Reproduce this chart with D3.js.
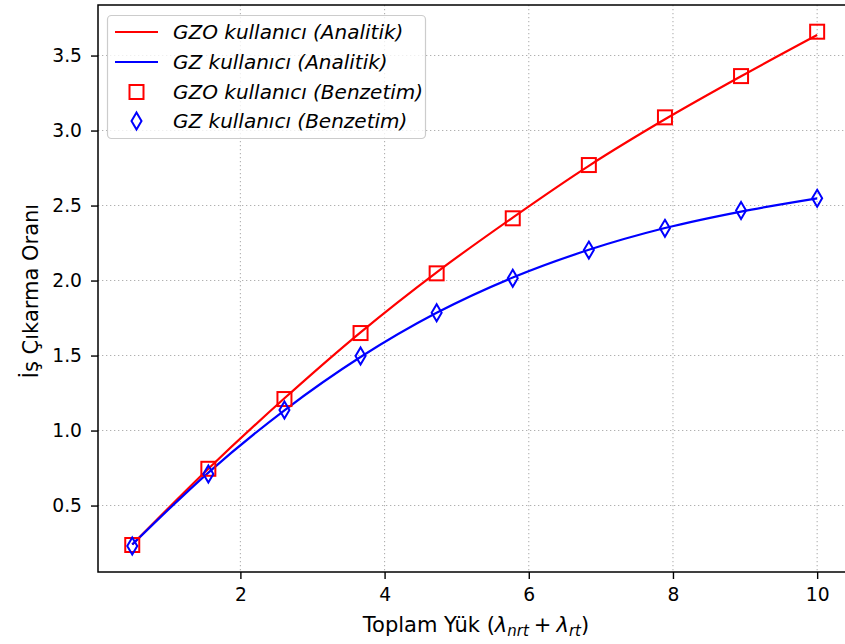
<!DOCTYPE html>
<html><head><meta charset="utf-8">
<script src="https://cdn.jsdelivr.net/npm/d3@7"></script>
<style>
body{margin:0;background:#fff;}
svg{font-family:"DejaVu Sans",sans-serif;}
</style></head>
<body><svg id="c" width="845" height="644"></svg>
<script>
const xValues = [0.5, 1.5556, 2.6111, 3.6667, 4.7222, 5.7778, 6.8333, 7.8889, 8.9444, 10];
const gzoAnalytic = [0.240, 0.745, 1.215, 1.655, 2.055, 2.420, 2.765, 3.075, 3.362, 3.637];
const gzAnalytic  = [0.240, 0.720, 1.135, 1.490, 1.785, 2.020, 2.205, 2.350, 2.460, 2.548];
const gzoSim = [0.237, 0.745, 1.210, 1.650, 2.048, 2.415, 2.770, 3.088, 3.363, 3.659];
const gzSim  = [0.230, 0.710, 1.137, 1.497, 1.785, 2.015, 2.203, 2.348, 2.467, 2.548];
const xTicks = [2, 4, 6, 8, 10];
const yTicks = [0.5, 1.0, 1.5, 2.0, 2.5, 3.0, 3.5];
const legendLabels = ["GZO kullanıcı (Analitik)", "GZ kullanıcı (Analitik)", "GZO kullanıcı (Benzetim)", "GZ kullanıcı (Benzetim)"];

const svg = d3.select("#c");
const L = 98, R = 851.4, T = 5, B = 572;
const x = d3.scaleLinear().domain([0.025, 10.475]).range([L, R]);
const y = d3.scaleLinear().domain([0.057, 3.837]).range([B, T]);

const clipId = "plotclip";
svg.append("defs").append("clipPath").attr("id", clipId)
  .append("rect").attr("x", L).attr("y", T).attr("width", R - L).attr("height", B - T);

// grid
const grid = svg.append("g");
grid.selectAll(".gx").data(xTicks).enter().append("line")
  .attr("x1", d => x(d)).attr("x2", d => x(d)).attr("y1", T).attr("y2", B)
  .attr("stroke", "#b0b0b0").attr("stroke-width", 1.1).attr("stroke-dasharray", "1.3,2.7");
grid.selectAll(".gy").data(yTicks).enter().append("line")
  .attr("x1", L).attr("x2", R).attr("y1", d => y(d)).attr("y2", d => y(d))
  .attr("stroke", "#b0b0b0").attr("stroke-width", 1.1).attr("stroke-dasharray", "1.3,2.7");

// axes
const xAxis = d3.axisBottom(x).tickValues(xTicks).tickFormat(d3.format("d")).tickSize(7).tickPadding(9);
const yAxis = d3.axisLeft(y).tickValues(yTicks).tickFormat(d3.format(".1f")).tickSize(7).tickPadding(9);
const gx = svg.append("g").attr("transform", `translate(0,${B})`).call(xAxis);
const gy = svg.append("g").attr("transform", `translate(${L},0)`).call(yAxis);
[gx, gy].forEach(g => {
  g.select(".domain").remove();
  g.selectAll(".tick line").attr("stroke", "#000").attr("stroke-width", 1.4);
  g.selectAll(".tick text").attr("fill", "#000").style("font-size", "18.7px").style("font-family", "DejaVu Sans");
});

// spines
svg.append("rect").attr("x", L).attr("y", T).attr("width", R - L).attr("height", B - T)
  .attr("fill", "none").attr("stroke", "#000").attr("stroke-width", 1.5);

const plot = svg.append("g").attr("clip-path", `url(#${clipId})`);
const line = d3.line().x(d => x(d[0])).y(d => y(d[1])).curve(d3.curveMonotoneX);
plot.append("path").datum(xValues.map((v, i) => [v, gzoAnalytic[i]]))
  .attr("d", line).attr("fill", "none").attr("stroke", "#ff0000").attr("stroke-width", 2.2);
plot.append("path").datum(xValues.map((v, i) => [v, gzAnalytic[i]]))
  .attr("d", line).attr("fill", "none").attr("stroke", "#0000ff").attr("stroke-width", 2.2);

const sq = 14;
plot.selectAll(".sq").data(xValues.map((v, i) => [v, gzoSim[i]])).enter().append("rect")
  .attr("x", d => x(d[0]) - sq / 2).attr("y", d => y(d[1]) - sq / 2)
  .attr("width", sq).attr("height", sq)
  .attr("fill", "none").attr("stroke", "#ff0000").attr("stroke-width", 2);
const diamond = "M0,-8.5L5,0L0,8.5L-5,0Z";
plot.selectAll(".dm").data(xValues.map((v, i) => [v, gzSim[i]])).enter().append("path")
  .attr("d", diamond).attr("transform", d => `translate(${x(d[0])},${y(d[1])})`)
  .attr("fill", "none").attr("stroke", "#0000ff").attr("stroke-width", 2);

// legend
const lg = svg.append("g");
lg.append("rect").attr("x", 107.5).attr("y", 15.5).attr("width", 318).attr("height", 123)
  .attr("rx", 4).attr("fill", "#fff").attr("fill-opacity", 0.8).attr("stroke", "#cccccc").attr("stroke-width", 1.2);
const rows = [32, 62, 92, 121];
lg.append("line").attr("x1", 115).attr("x2", 158).attr("y1", rows[0]).attr("y2", rows[0]).attr("stroke", "#ff0000").attr("stroke-width", 2.2);
lg.append("line").attr("x1", 115).attr("x2", 158).attr("y1", rows[1]).attr("y2", rows[1]).attr("stroke", "#0000ff").attr("stroke-width", 2.2);
lg.append("rect").attr("x", 136.5 - sq / 2).attr("y", rows[2] - sq / 2).attr("width", sq).attr("height", sq)
  .attr("fill", "none").attr("stroke", "#ff0000").attr("stroke-width", 2);
lg.append("path").attr("d", diamond).attr("transform", `translate(136.5,${rows[3]})`)
  .attr("fill", "none").attr("stroke", "#0000ff").attr("stroke-width", 2);
lg.selectAll(".lt").data(legendLabels).enter().append("text")
  .attr("x", 173).attr("y", (d, i) => rows[i]).attr("dy", "0.36em")
  .style("font-size", "20px").style("font-style", "italic").attr("fill", "#000")
  .text(d => d);

// axis labels
const xl = svg.append("text").attr("x", 476).attr("y", 632)
  .attr("text-anchor", "middle").style("font-size", "21px").attr("fill", "#000");
xl.append("tspan").text("Toplam Yük (");
xl.append("tspan").style("font-style", "italic").text("λ");
xl.append("tspan").style("font-style", "italic").style("font-size", "15px").attr("dy", 4).text("nrt");
xl.append("tspan").attr("dy", -4).attr("dx", 5).text("+");
xl.append("tspan").attr("dx", 5).style("font-style", "italic").text("λ");
xl.append("tspan").style("font-style", "italic").style("font-size", "15px").attr("dy", 4).text("rt");
xl.append("tspan").attr("dy", -4).text(")");

svg.append("text").attr("transform", `translate(38,291) rotate(-90)`)
  .attr("text-anchor", "middle").style("font-size", "21px").attr("fill", "#000")
  .text("İş Çıkarma Oranı");
</script></body></html>
